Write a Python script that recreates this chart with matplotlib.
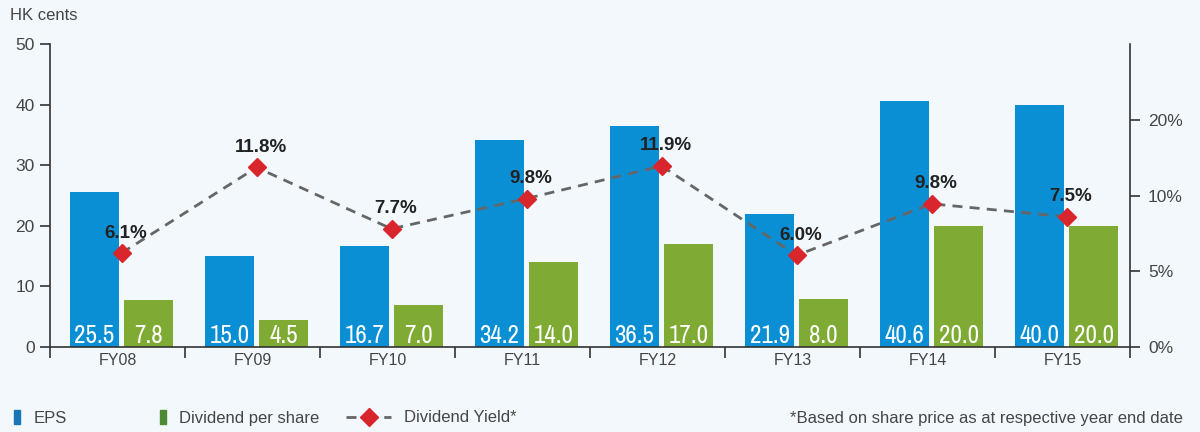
import numpy as np
import matplotlib
matplotlib.use("Agg")
import matplotlib.pyplot as plt
from matplotlib import font_manager
from matplotlib.patches import Patch
from matplotlib.lines import Line2D

years = ["FY08", "FY09", "FY10", "FY11", "FY12", "FY13", "FY14", "FY15"]
eps = [25.5, 15.0, 16.7, 34.2, 36.5, 21.9, 40.6, 40.0]
dps = [7.8, 4.5, 7.0, 14.0, 17.0, 8.0, 20.0, 20.0]
# yield markers as drawn on the right axis, and the labels printed beside them
yield_pos = [6.2, 11.85, 7.8, 9.8, 11.95, 6.05, 9.45, 8.6]
yield_labels = ["6.1%", "11.8%", "7.7%", "9.8%", "11.9%", "6.0%", "9.8%", "7.5%"]
right_ticks = [0, 5, 10, 15]
right_tick_labels = ["0%", "5%", "10%", "20%"]

BG = "#f2f8fc"
BLUE = "#0a8fd4"
GREEN = "#7fab35"
RED = "#d9262d"
GREY = "#666666"
AXIS = "#333333"
TXT = "#454545"

plt.rcParams["font.family"] = ["Liberation Sans", "DejaVu Sans"]


def _wnum(w):
    if isinstance(w, int):
        return w
    return {"light": 300, "normal": 400, "regular": 400, "book": 400, "medium": 500}.get(str(w).lower(), 700)


# pick a narrow, non-bold face for the in-bar numbers if one is installed
narrow = [f for f in font_manager.fontManager.ttflist
          if ("Narrow" in f.name or "Condensed" in f.name or f.stretch in ("condensed", "semi-condensed"))
          and f.style == "normal" and _wnum(f.weight) <= 400]
narrow.sort(key=lambda f: (abs(_wnum(f.weight) - 350), f.name))
if narrow:
    NARROW_PROPS = dict(fontproperties=font_manager.FontProperties(fname=narrow[0].fname, size=18))
else:
    NARROW_PROPS = dict(fontsize=15.5)

fig = plt.figure(figsize=(12, 4.32), dpi=100, facecolor=BG)
ax = fig.add_axes([50 / 1200, 85 / 432, 1080 / 1200, 303 / 432])
ax.set_facecolor(BG)

x = np.arange(len(years))
ax.bar(x - 0.17, eps, width=0.363, color=BLUE, zorder=2)
ax.bar(x + 0.23, dps, width=0.363, color=GREEN, zorder=2)

for xi, v in zip(x, eps):
    ax.annotate(f"{v:.1f}", (xi - 0.17, 0), xytext=(0, 4), textcoords="offset pixels",
                ha="center", va="baseline", color="white", zorder=3, **NARROW_PROPS)
for xi, v in zip(x, dps):
    ax.annotate(f"{v:.1f}", (xi + 0.23, 0), xytext=(0, 4), textcoords="offset pixels",
                ha="center", va="baseline", color="white", zorder=3, **NARROW_PROPS)

ax.set_xlim(-0.5, len(years) - 0.5)
ax.set_ylim(0, 50)
ax.set_yticks([0, 10, 20, 30, 40, 50])
ax.set_xticks(x, years)
ax.set_xticks(np.arange(-0.5, len(years)), minor=True)
ax.tick_params(axis="x", which="major", length=0, labelsize=11.5, labelcolor=TXT, pad=4)
ax.tick_params(axis="x", which="minor", length=8, width=1.2, color=AXIS, direction="out")
ax.tick_params(axis="y", length=7, width=1.2, color=AXIS, labelsize=12.5, labelcolor=TXT, pad=4)
for s in ["top", "right"]:
    ax.spines[s].set_visible(False)
for s in ["left", "bottom"]:
    ax.spines[s].set_color(AXIS)
    ax.spines[s].set_linewidth(1.2)

ax2 = ax.twinx()
ax2.set_ylim(0, 20)
ax2.set_yticks(right_ticks, right_tick_labels)
ax2.tick_params(axis="y", length=7, width=1.2, color=AXIS, labelsize=12.5, labelcolor=TXT, pad=6)
for s in ["top", "left", "bottom"]:
    ax2.spines[s].set_visible(False)
ax2.spines["right"].set_color(AXIS)
ax2.spines["right"].set_linewidth(1.2)

ax2.plot(x + 0.03, yield_pos, color=GREY, lw=2, linestyle=(0, (3.6, 2.6)), zorder=4)
ax2.plot(x + 0.03, yield_pos, linestyle="none", marker="D", markersize=9.5,
         color=RED, markeredgecolor=RED, zorder=5)
for xi, v, lab in zip(x, yield_pos, yield_labels):
    ax2.annotate(lab, (xi + 0.03, v), xytext=(4, 20), textcoords="offset pixels",
                 ha="center", va="center", fontsize=13.5, fontweight="bold", color="#222222", zorder=6)

fig.text(10 / 1200, 1 - 16 / 432, "HK cents", fontsize=12, color=TXT, va="center", ha="left")

# legend, three separate pieces along the bottom
leg_kw = dict(frameon=False, fontsize=12, borderpad=0, borderaxespad=0, handletextpad=0.8,
              loc="center left", labelcolor=TXT)
fig.legend(handles=[Patch(color="#1a75b5", label="EPS")], handlelength=0.35, handleheight=0.9,
           bbox_to_anchor=(14 / 1200, 14 / 432), **leg_kw)
fig.legend(handles=[Patch(color="#4f8a35", label="Dividend per share")], handlelength=0.35,
           handleheight=0.9, bbox_to_anchor=(160 / 1200, 14 / 432), **leg_kw)
fig.legend(handles=[Line2D([], [], color=GREY, lw=2, linestyle=(0, (3.6, 10)), marker="D",
                           markersize=9.5, markerfacecolor=RED, markeredgecolor=RED,
                           label="Dividend Yield*")],
           handlelength=2.7, bbox_to_anchor=(346 / 1200, 14 / 432), **leg_kw)

fig.text(1183 / 1200, 14 / 432, "*Based on share price as at respective year end date",
         fontsize=12, color=TXT, ha="right", va="center")

fig.savefig("out.png", dpi=100, facecolor=BG)
